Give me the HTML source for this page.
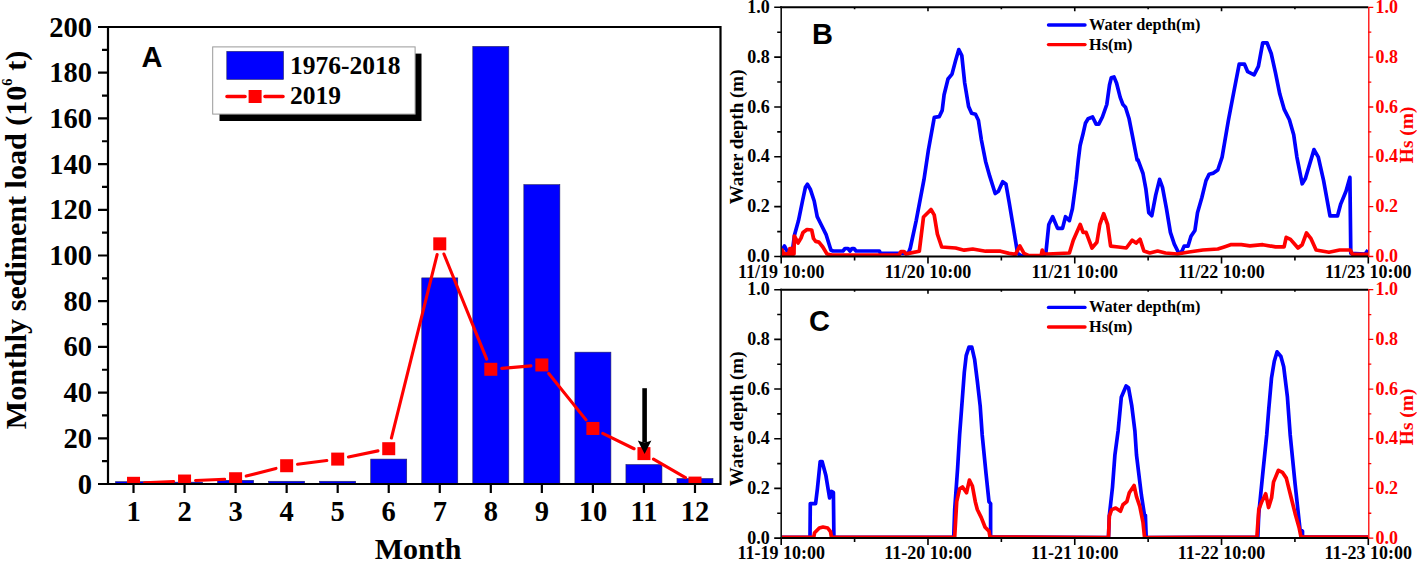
<!DOCTYPE html>
<html><head><meta charset="utf-8"><style>
html,body{margin:0;padding:0;background:#fff;width:1417px;height:561px;overflow:hidden}
svg{display:block}
</style></head><body>
<svg width="1417" height="561" viewBox="0 0 1417 561">
<rect width="1417" height="561" fill="#fff"/>
<defs><clipPath id="clipA"><rect x="108" y="27" width="612.5" height="457"/></clipPath>
<clipPath id="clipB"><rect x="781.2" y="7.3" width="587.1" height="249.2"/></clipPath>
<clipPath id="clipC"><rect x="781.2" y="289.7" width="587.1" height="248.4"/></clipPath></defs>
<g clip-path="url(#clipA)">
<rect x="115.52" y="481.71" width="36" height="4.29" fill="#0000ff" stroke="#202060" stroke-width="0.6"/>
<rect x="166.56" y="482.17" width="36" height="3.83" fill="#0000ff" stroke="#202060" stroke-width="0.6"/>
<rect x="217.60" y="480.34" width="36" height="5.66" fill="#0000ff" stroke="#202060" stroke-width="0.6"/>
<rect x="268.65" y="481.26" width="36" height="4.74" fill="#0000ff" stroke="#202060" stroke-width="0.6"/>
<rect x="319.69" y="481.26" width="36" height="4.74" fill="#0000ff" stroke="#202060" stroke-width="0.6"/>
<rect x="370.73" y="459.09" width="36" height="26.91" fill="#0000ff" stroke="#202060" stroke-width="0.6"/>
<rect x="421.77" y="277.89" width="36" height="208.11" fill="#0000ff" stroke="#202060" stroke-width="0.6"/>
<rect x="472.81" y="46.42" width="36" height="439.58" fill="#0000ff" stroke="#202060" stroke-width="0.6"/>
<rect x="523.85" y="184.67" width="36" height="301.33" fill="#0000ff" stroke="#202060" stroke-width="0.6"/>
<rect x="574.90" y="352.16" width="36" height="133.84" fill="#0000ff" stroke="#202060" stroke-width="0.6"/>
<rect x="625.94" y="464.58" width="36" height="21.42" fill="#0000ff" stroke="#202060" stroke-width="0.6"/>
<rect x="676.98" y="478.52" width="36" height="7.48" fill="#0000ff" stroke="#202060" stroke-width="0.6"/>
<path d="M144.51 482.82L173.57 481.52 M195.55 480.54L224.62 479.24 M246.26 476.02L275.99 468.44 M297.55 464.30L326.78 460.51 M348.47 456.90L377.95 450.89 M391.39 438.02L437.11 254.52 M443.92 254.04L486.67 359.10 M501.77 368.36L530.89 365.88 M548.74 373.53L586.01 419.90 M602.76 433.33L634.07 448.75 M653.46 459.11L685.45 477.58" stroke="#ff0000" stroke-width="3.1" stroke-linecap="round" fill="none"/>
<rect x="127.02" y="476.81" width="13" height="13" fill="#ff0000"/>
<rect x="178.06" y="474.53" width="13" height="13" fill="#ff0000"/>
<rect x="229.10" y="472.24" width="13" height="13" fill="#ff0000"/>
<rect x="280.15" y="459.22" width="13" height="13" fill="#ff0000"/>
<rect x="331.19" y="452.59" width="13" height="13" fill="#ff0000"/>
<rect x="382.23" y="442.20" width="13" height="13" fill="#ff0000"/>
<rect x="433.27" y="237.35" width="13" height="13" fill="#ff0000"/>
<rect x="484.31" y="362.79" width="13" height="13" fill="#ff0000"/>
<rect x="535.35" y="358.45" width="13" height="13" fill="#ff0000"/>
<rect x="586.40" y="421.97" width="13" height="13" fill="#ff0000"/>
<rect x="637.44" y="447.11" width="13" height="13" fill="#ff0000"/>
<rect x="688.48" y="476.59" width="13" height="13" fill="#ff0000"/>
</g>
<path d="M108 27H720.5V484H108Z" fill="none" stroke="#000" stroke-width="2.2"/>
<path d="M98 484.00H108 M102 461.15H108 M98 438.30H108 M102 415.45H108 M98 392.60H108 M102 369.75H108 M98 346.90H108 M102 324.05H108 M98 301.20H108 M102 278.35H108 M98 255.50H108 M102 232.65H108 M98 209.80H108 M102 186.95H108 M98 164.10H108 M102 141.25H108 M98 118.40H108 M102 95.55H108 M98 72.70H108 M102 49.85H108 M98 27.00H108 M133.52 484V493 M184.56 484V493 M235.60 484V493 M286.65 484V493 M337.69 484V493 M388.73 484V493 M439.77 484V493 M490.81 484V493 M541.85 484V493 M592.90 484V493 M643.94 484V493 M694.98 484V493" stroke="#000" stroke-width="2.2"/>
<text x="92" y="493.50" font-family="Liberation Serif" font-weight="bold" font-size="28.5" text-anchor="end">0</text>
<text x="92" y="447.80" font-family="Liberation Serif" font-weight="bold" font-size="28.5" text-anchor="end">20</text>
<text x="92" y="402.10" font-family="Liberation Serif" font-weight="bold" font-size="28.5" text-anchor="end">40</text>
<text x="92" y="356.40" font-family="Liberation Serif" font-weight="bold" font-size="28.5" text-anchor="end">60</text>
<text x="92" y="310.70" font-family="Liberation Serif" font-weight="bold" font-size="28.5" text-anchor="end">80</text>
<text x="92" y="265.00" font-family="Liberation Serif" font-weight="bold" font-size="28.5" text-anchor="end">100</text>
<text x="92" y="219.30" font-family="Liberation Serif" font-weight="bold" font-size="28.5" text-anchor="end">120</text>
<text x="92" y="173.60" font-family="Liberation Serif" font-weight="bold" font-size="28.5" text-anchor="end">140</text>
<text x="92" y="127.90" font-family="Liberation Serif" font-weight="bold" font-size="28.5" text-anchor="end">160</text>
<text x="92" y="82.20" font-family="Liberation Serif" font-weight="bold" font-size="28.5" text-anchor="end">180</text>
<text x="92" y="36.50" font-family="Liberation Serif" font-weight="bold" font-size="28.5" text-anchor="end">200</text>
<text x="133.52" y="520.7" font-family="Liberation Serif" font-weight="bold" font-size="28.5" text-anchor="middle">1</text>
<text x="184.56" y="520.7" font-family="Liberation Serif" font-weight="bold" font-size="28.5" text-anchor="middle">2</text>
<text x="235.60" y="520.7" font-family="Liberation Serif" font-weight="bold" font-size="28.5" text-anchor="middle">3</text>
<text x="286.65" y="520.7" font-family="Liberation Serif" font-weight="bold" font-size="28.5" text-anchor="middle">4</text>
<text x="337.69" y="520.7" font-family="Liberation Serif" font-weight="bold" font-size="28.5" text-anchor="middle">5</text>
<text x="388.73" y="520.7" font-family="Liberation Serif" font-weight="bold" font-size="28.5" text-anchor="middle">6</text>
<text x="439.77" y="520.7" font-family="Liberation Serif" font-weight="bold" font-size="28.5" text-anchor="middle">7</text>
<text x="490.81" y="520.7" font-family="Liberation Serif" font-weight="bold" font-size="28.5" text-anchor="middle">8</text>
<text x="541.85" y="520.7" font-family="Liberation Serif" font-weight="bold" font-size="28.5" text-anchor="middle">9</text>
<text x="592.90" y="520.7" font-family="Liberation Serif" font-weight="bold" font-size="28.5" text-anchor="middle">10</text>
<text x="643.94" y="520.7" font-family="Liberation Serif" font-weight="bold" font-size="28.5" text-anchor="middle">11</text>
<text x="694.98" y="520.7" font-family="Liberation Serif" font-weight="bold" font-size="28.5" text-anchor="middle">12</text>
<text x="418" y="559.4" font-family="Liberation Serif" font-weight="bold" font-size="30" text-anchor="middle">Month</text>
<text transform="translate(26.1,240) rotate(-90)" font-family="Liberation Serif" font-weight="bold" font-size="30.1" text-anchor="middle">Monthly sediment load (10<tspan font-size="14.5" dy="-14">6</tspan><tspan dy="14"> t)</tspan></text>
<text x="152" y="67.3" font-family="Liberation Sans" font-weight="bold" font-size="29" text-anchor="middle">A</text>
<path d="M644.6 388.2V442" stroke="#000" stroke-width="4.6"/>
<path d="M644.6 454L637.8 440.4Q644.6 444 651.4 440.4Z" fill="#000"/>
<rect x="219.5" y="53.6" width="202" height="67.4" fill="#000"/>
<rect x="212.7" y="46.9" width="202.4" height="67.2" fill="#fff" stroke="#999" stroke-width="1"/>
<rect x="226.8" y="51.4" width="56.7" height="28" fill="#0000ff" stroke="#202060" stroke-width="0.6"/>
<path d="M227 96.5H245M265 96.5H283" stroke="#ff0000" stroke-width="3.6" stroke-linecap="round"/>
<rect x="248.6" y="90" width="13" height="13" fill="#ff0000"/>
<text x="290" y="74" font-family="Liberation Serif" font-weight="bold" font-size="25.5">1976-2018</text>
<text x="290" y="104.4" font-family="Liberation Serif" font-weight="bold" font-size="25.5">2019</text>
<g clip-path="url(#clipB)">
<polyline points="781.0,252.0 784.5,246.0 787.0,251.0 792.5,250.0 794.5,235.0 798.5,220.6 802.5,201.0 805.4,187.3 807.4,184.3 810.3,189.2 814.2,201.0 817.2,216.7 821.1,224.5 826.0,234.3 830.9,250.0 833.0,251.0 843.0,251.0 845.0,248.5 848.0,248.5 850.0,251.0 852.0,248.5 854.0,248.5 856.0,251.0 879.4,251.0 880.5,253.4 908.3,253.4 910.3,248.0 916.2,220.6 924.0,179.4 928.4,150.0 934.3,117.3 939.2,116.7 942.2,110.4 944.1,94.7 948.0,79.0 952.0,74.1 955.9,59.4 958.8,49.6 961.8,55.5 964.7,83.0 968.6,106.5 971.6,113.3 975.5,114.3 978.4,120.2 981.4,140.0 985.6,161.4 989.8,176.4 995.2,193.5 998.4,191.3 1002.7,181.7 1005.9,183.9 1009.1,202.0 1013.4,227.7 1017.6,253.4 1020.9,255.5 1043.0,256.0 1045.9,253.0 1048.8,224.5 1052.7,216.7 1057.6,228.4 1062.5,228.4 1065.5,216.7 1069.4,220.6 1072.4,208.8 1076.3,179.4 1078.3,160.0 1080.1,145.5 1082.8,134.8 1085.4,123.3 1088.1,118.8 1092.6,117.0 1096.1,124.1 1098.8,124.1 1102.4,117.0 1106.8,104.5 1109.5,85.0 1111.3,77.8 1114.0,76.9 1116.6,83.2 1120.2,97.4 1122.9,104.5 1125.5,107.2 1129.1,118.8 1132.6,136.6 1137.1,160.0 1138.0,159.8 1143.0,173.5 1145.9,189.2 1148.8,212.7 1151.8,215.7 1155.7,195.1 1159.6,179.4 1162.5,187.3 1166.5,208.8 1170.4,232.4 1174.3,244.1 1178.2,252.0 1181.2,253.0 1184.1,246.1 1188.0,246.1 1191.0,236.3 1194.9,230.4 1197.5,212.7 1201.8,197.7 1206.0,180.6 1209.2,174.2 1213.5,173.1 1217.8,170.0 1222.1,157.1 1228.5,119.8 1233.8,92.0 1239.2,64.2 1244.5,64.2 1247.7,71.7 1254.1,74.9 1258.4,66.3 1262.7,42.8 1267.0,42.8 1271.2,53.5 1275.5,72.8 1279.8,94.1 1284.1,109.1 1289.4,119.8 1293.7,134.7 1296.9,157.1 1302.2,183.8 1305.4,178.5 1314.0,149.6 1318.3,157.1 1323.6,180.6 1330.0,215.9 1337.5,215.9 1340.7,204.1 1346.0,191.3 1349.9,177.4 1350.8,253.3 1365.0,254.0 1368.0,250.0" fill="none" stroke="#0000ff" stroke-width="3.7" stroke-linejoin="round"/>
<polyline points="781.0,254.0 794.0,254.0 794.3,236.0 796.5,240.0 798.0,243.0 801.0,238.0 803.0,232.5 807.0,229.5 811.7,230.0 813.5,238.5 815.7,241.4 818.9,242.1 822.8,247.0 827.0,254.0 831.9,255.0 899.0,255.0 901.0,251.5 904.0,251.5 906.0,254.0 908.6,253.4 919.3,251.2 923.5,217.0 927.8,212.7 931.0,209.5 934.2,214.9 937.4,234.1 941.7,247.0 955.6,248.0 964.2,250.2 972.7,249.0 985.6,251.2 1000.5,251.2 1009.1,253.4 1015.5,254.4 1019.8,245.9 1024.0,253.4 1028.3,255.5 1041.2,255.5 1042.2,250.0 1044.0,254.0 1047.8,254.0 1069.4,253.0 1073.3,240.2 1080.2,224.5 1083.1,232.4 1086.1,232.4 1092.0,248.0 1096.9,242.2 1099.8,224.5 1103.7,213.7 1107.6,224.5 1110.6,246.1 1118.4,247.0 1126.3,248.0 1132.2,240.2 1136.1,243.1 1140.0,239.2 1143.9,251.0 1149.8,253.0 1157.6,251.0 1165.5,253.0 1177.3,254.0 1189.0,252.0 1202.8,250.0 1217.8,249.0 1224.2,246.9 1230.6,244.7 1241.3,244.7 1249.9,245.8 1262.7,244.7 1275.5,246.9 1284.1,246.9 1286.2,237.3 1290.5,239.4 1298.0,248.0 1302.2,244.7 1306.5,233.0 1310.8,238.3 1316.1,250.0 1329.0,252.2 1339.6,250.0 1350.3,250.0 1352.5,254.4 1368.0,254.4" fill="none" stroke="#ff0000" stroke-width="3.7" stroke-linejoin="round"/>
<polygon points="781,256 781,248 783.5,248.5 785,252 787,252.5 788.5,247 792,246.5 793.5,248 794.5,256" fill="#ff0000"/>
</g>
<path d="M780.2 7.3H1368.3 M780.2 256.5H1368.3" stroke="#000" stroke-width="2" fill="none"/>
<path d="M781.2 6.3V257.5" stroke="#111" stroke-width="1.6" fill="none"/>
<path d="M1368.8 7.3V256.5" stroke="#ff0000" stroke-width="1.3"/>
<path d="M774.2 256.50H781.2 M777.2 231.58H781.2 M774.2 206.66H781.2 M777.2 181.74H781.2 M774.2 156.82H781.2 M777.2 131.90H781.2 M774.2 106.98H781.2 M777.2 82.06H781.2 M774.2 57.14H781.2 M777.2 32.22H781.2 M774.2 7.30H781.2 M781.20 256.5V263.5 M854.59 256.5V260.5 M854.59 7.3V9.3 M927.98 256.5V263.5 M927.98 7.3V11.3 M1001.36 256.5V260.5 M1001.36 7.3V9.3 M1074.75 256.5V263.5 M1074.75 7.3V11.3 M1148.14 256.5V260.5 M1148.14 7.3V9.3 M1221.53 256.5V263.5 M1221.53 7.3V11.3 M1294.91 256.5V260.5 M1294.91 7.3V9.3 M1368.30 256.5V263.5" stroke="#000" stroke-width="1.6"/>
<path d="M1368.3 256.50H1373.3 M1368.3 231.58H1371.3 M1368.3 206.66H1373.3 M1368.3 181.74H1371.3 M1368.3 156.82H1373.3 M1368.3 131.90H1371.3 M1368.3 106.98H1373.3 M1368.3 82.06H1371.3 M1368.3 57.14H1373.3 M1368.3 32.22H1371.3 M1368.3 7.30H1373.3" stroke="#ff0000" stroke-width="1.3"/>
<text x="769.7" y="262.10" font-family="Liberation Serif" font-weight="bold" font-size="18" text-anchor="end">0.0</text>
<text x="1375.5" y="262.10" font-family="Liberation Serif" font-weight="bold" font-size="18" fill="#ff0000">0.0</text>
<text x="769.7" y="212.26" font-family="Liberation Serif" font-weight="bold" font-size="18" text-anchor="end">0.2</text>
<text x="1375.5" y="212.26" font-family="Liberation Serif" font-weight="bold" font-size="18" fill="#ff0000">0.2</text>
<text x="769.7" y="162.42" font-family="Liberation Serif" font-weight="bold" font-size="18" text-anchor="end">0.4</text>
<text x="1375.5" y="162.42" font-family="Liberation Serif" font-weight="bold" font-size="18" fill="#ff0000">0.4</text>
<text x="769.7" y="112.58" font-family="Liberation Serif" font-weight="bold" font-size="18" text-anchor="end">0.6</text>
<text x="1375.5" y="112.58" font-family="Liberation Serif" font-weight="bold" font-size="18" fill="#ff0000">0.6</text>
<text x="769.7" y="62.74" font-family="Liberation Serif" font-weight="bold" font-size="18" text-anchor="end">0.8</text>
<text x="1375.5" y="62.74" font-family="Liberation Serif" font-weight="bold" font-size="18" fill="#ff0000">0.8</text>
<text x="769.7" y="12.90" font-family="Liberation Serif" font-weight="bold" font-size="18" text-anchor="end">1.0</text>
<text x="1375.5" y="12.90" font-family="Liberation Serif" font-weight="bold" font-size="18" fill="#ff0000">1.0</text>
<text x="781.20" y="277.50" font-family="Liberation Serif" font-weight="bold" font-size="18" text-anchor="middle">11/19 10:00</text>
<text x="927.98" y="277.50" font-family="Liberation Serif" font-weight="bold" font-size="18" text-anchor="middle">11/20 10:00</text>
<text x="1074.75" y="277.50" font-family="Liberation Serif" font-weight="bold" font-size="18" text-anchor="middle">11/21 10:00</text>
<text x="1221.53" y="277.50" font-family="Liberation Serif" font-weight="bold" font-size="18" text-anchor="middle">11/22 10:00</text>
<text x="1368.30" y="277.50" font-family="Liberation Serif" font-weight="bold" font-size="18" text-anchor="middle">11/23 10:00</text>
<text transform="translate(742.5,136.90) rotate(-90)" font-family="Liberation Serif" font-weight="bold" font-size="19" text-anchor="middle">Water depth (m)</text>
<text transform="translate(1413,134.90) rotate(-90)" font-family="Liberation Serif" font-weight="bold" font-size="19.4" text-anchor="middle" fill="#ff0000">Hs (m)</text>
<text x="812" y="43.9" font-family="Liberation Sans" font-weight="bold" font-size="29">B</text>
<path d="M1048.5 25H1085" stroke="#0000ff" stroke-width="3.4" stroke-linecap="round"/>
<path d="M1048.5 44.6H1085" stroke="#ff0000" stroke-width="3.4" stroke-linecap="round"/>
<text x="1089" y="29.8" font-family="Liberation Serif" font-weight="bold" font-size="16.3">Water depth(m)</text>
<text x="1089" y="49.6" font-family="Liberation Serif" font-weight="bold" font-size="16.3">Hs(m)</text>
<g clip-path="url(#clipC)">
<polyline points="781.0,537.3 810.0,537.3 810.3,503.6 815.6,503.6 817.4,488.7 820.2,461.5 822.1,461.5 825.9,475.6 829.6,498.0 831.5,491.5 833.4,492.4 833.9,537.3 953.7,537.0 954.7,509.5 957.6,468.3 959.6,435.0 961.5,409.9 964.3,372.4 966.2,355.6 969.0,347.2 971.8,347.2 974.6,359.3 977.4,381.8 980.2,406.1 982.2,435.0 986.1,474.2 989.0,501.7 990.6,503.6 990.6,537.0 1108.5,537.7 1109.3,516.0 1112.5,487.1 1114.9,455.0 1118.1,431.0 1121.3,397.3 1126.1,386.0 1128.5,387.7 1131.7,405.3 1134.9,431.0 1136.5,455.0 1141.4,495.1 1144.6,516.0 1145.4,515.2 1146.2,537.7 1257.8,537.0 1258.8,513.4 1262.7,474.2 1266.7,435.0 1268.7,409.9 1271.5,378.0 1274.3,361.2 1277.1,351.8 1280.9,356.5 1283.7,366.8 1287.4,396.8 1290.2,435.0 1295.1,484.0 1300.0,529.1 1302.5,531.1 1302.5,537.0 1368.0,537.0" fill="none" stroke="#0000ff" stroke-width="3.7" stroke-linejoin="round"/>
<polyline points="781.0,537.3 813.7,537.3 814.6,532.7 819.3,528.0 823.0,527.0 827.7,528.0 830.5,531.7 831.5,537.3 954.7,537.0 956.7,501.7 959.6,488.9 962.5,487.0 966.5,492.8 969.4,480.1 972.4,486.0 975.3,501.7 977.3,509.5 981.2,517.4 985.1,527.2 989.0,531.1 990.0,537.0 1108.5,537.7 1109.3,516.0 1111.7,509.6 1115.7,508.0 1120.5,511.2 1122.9,504.8 1126.9,501.5 1129.3,492.7 1134.1,485.5 1136.5,496.7 1139.8,506.4 1143.0,522.4 1144.6,537.7 1256.9,537.0 1258.8,509.5 1261.8,501.7 1265.7,493.8 1268.6,507.5 1271.6,497.7 1273.5,482.1 1278.4,470.3 1282.4,472.3 1286.3,478.1 1290.2,493.8 1295.1,513.4 1299.0,527.2 1301.0,537.0 1368.0,537.0" fill="none" stroke="#ff0000" stroke-width="3.7" stroke-linejoin="round"/>
</g>
<path d="M780.2 289.7H1368.3 M780.2 538.1H1368.3" stroke="#000" stroke-width="2" fill="none"/>
<path d="M781.2 288.7V539.1" stroke="#111" stroke-width="1.6" fill="none"/>
<path d="M1368.8 289.7V538.1" stroke="#ff0000" stroke-width="1.3"/>
<path d="M774.2 538.10H781.2 M777.2 513.26H781.2 M774.2 488.42H781.2 M777.2 463.58H781.2 M774.2 438.74H781.2 M777.2 413.90H781.2 M774.2 389.06H781.2 M777.2 364.22H781.2 M774.2 339.38H781.2 M777.2 314.54H781.2 M774.2 289.70H781.2 M781.20 538.1V545.1 M854.59 538.1V542.1 M854.59 289.7V291.7 M927.98 538.1V545.1 M927.98 289.7V293.7 M1001.36 538.1V542.1 M1001.36 289.7V291.7 M1074.75 538.1V545.1 M1074.75 289.7V293.7 M1148.14 538.1V542.1 M1148.14 289.7V291.7 M1221.53 538.1V545.1 M1221.53 289.7V293.7 M1294.91 538.1V542.1 M1294.91 289.7V291.7 M1368.30 538.1V545.1" stroke="#000" stroke-width="1.6"/>
<path d="M1368.3 538.10H1373.3 M1368.3 513.26H1371.3 M1368.3 488.42H1373.3 M1368.3 463.58H1371.3 M1368.3 438.74H1373.3 M1368.3 413.90H1371.3 M1368.3 389.06H1373.3 M1368.3 364.22H1371.3 M1368.3 339.38H1373.3 M1368.3 314.54H1371.3 M1368.3 289.70H1373.3" stroke="#ff0000" stroke-width="1.3"/>
<text x="769.7" y="543.70" font-family="Liberation Serif" font-weight="bold" font-size="18" text-anchor="end">0.0</text>
<text x="1375.5" y="543.70" font-family="Liberation Serif" font-weight="bold" font-size="18" fill="#ff0000">0.0</text>
<text x="769.7" y="494.02" font-family="Liberation Serif" font-weight="bold" font-size="18" text-anchor="end">0.2</text>
<text x="1375.5" y="494.02" font-family="Liberation Serif" font-weight="bold" font-size="18" fill="#ff0000">0.2</text>
<text x="769.7" y="444.34" font-family="Liberation Serif" font-weight="bold" font-size="18" text-anchor="end">0.4</text>
<text x="1375.5" y="444.34" font-family="Liberation Serif" font-weight="bold" font-size="18" fill="#ff0000">0.4</text>
<text x="769.7" y="394.66" font-family="Liberation Serif" font-weight="bold" font-size="18" text-anchor="end">0.6</text>
<text x="1375.5" y="394.66" font-family="Liberation Serif" font-weight="bold" font-size="18" fill="#ff0000">0.6</text>
<text x="769.7" y="344.98" font-family="Liberation Serif" font-weight="bold" font-size="18" text-anchor="end">0.8</text>
<text x="1375.5" y="344.98" font-family="Liberation Serif" font-weight="bold" font-size="18" fill="#ff0000">0.8</text>
<text x="769.7" y="295.30" font-family="Liberation Serif" font-weight="bold" font-size="18" text-anchor="end">1.0</text>
<text x="1375.5" y="295.30" font-family="Liberation Serif" font-weight="bold" font-size="18" fill="#ff0000">1.0</text>
<text x="781.20" y="559.10" font-family="Liberation Serif" font-weight="bold" font-size="18" text-anchor="middle">11-19 10:00</text>
<text x="927.98" y="559.10" font-family="Liberation Serif" font-weight="bold" font-size="18" text-anchor="middle">11-20 10:00</text>
<text x="1074.75" y="559.10" font-family="Liberation Serif" font-weight="bold" font-size="18" text-anchor="middle">11-21 10:00</text>
<text x="1221.53" y="559.10" font-family="Liberation Serif" font-weight="bold" font-size="18" text-anchor="middle">11-22 10:00</text>
<text x="1368.30" y="559.10" font-family="Liberation Serif" font-weight="bold" font-size="18" text-anchor="middle">11-23 10:00</text>
<text transform="translate(742.5,418.90) rotate(-90)" font-family="Liberation Serif" font-weight="bold" font-size="19" text-anchor="middle">Water depth (m)</text>
<text transform="translate(1413,416.90) rotate(-90)" font-family="Liberation Serif" font-weight="bold" font-size="19.4" text-anchor="middle" fill="#ff0000">Hs (m)</text>
<text x="809" y="330.5" font-family="Liberation Sans" font-weight="bold" font-size="29">C</text>
<path d="M1048.5 307.4H1085" stroke="#0000ff" stroke-width="3.4" stroke-linecap="round"/>
<path d="M1048.5 327H1085" stroke="#ff0000" stroke-width="3.4" stroke-linecap="round"/>
<text x="1089" y="312.2" font-family="Liberation Serif" font-weight="bold" font-size="16.3">Water depth(m)</text>
<text x="1089" y="332" font-family="Liberation Serif" font-weight="bold" font-size="16.3">Hs(m)</text>
</svg>
</body></html>
